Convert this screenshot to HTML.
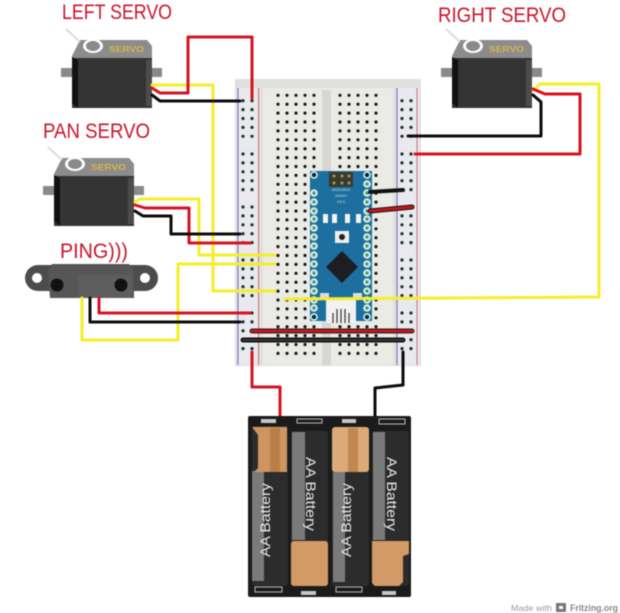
<!DOCTYPE html>
<html><head><meta charset="utf-8"><style>
html,body{margin:0;padding:0;background:#fff}
svg{display:block;filter:blur(.4px)}
text{font-family:"Liberation Sans",sans-serif}
</style></head><body>
<svg xmlns="http://www.w3.org/2000/svg" xmlns:xlink="http://www.w3.org/1999/xlink" width="620" height="613" viewBox="0 0 620 613">
<defs>
<g id="servo">
<path d="M61 68h12v9H61zM151 68h11v9h-11z" fill="#8a8a8a"/>
<path d="M72 56L80 40H147L152 46V60H72z" fill="#8c8c8c"/>
<rect x="72" y="58" width="80" height="50" fill="#333"/>
<path d="M72 57L78 60V108L72 103z" fill="#111"/>
<rect x="146" y="60" width="6" height="46" fill="#4c4c4c"/>
<rect x="78" y="60" width="68" height="48" fill="#343434"/>
<path d="M66 29L80 42" stroke="#ddd" stroke-width="2" fill="none"/>
<ellipse cx="93" cy="46" rx="10" ry="7" fill="#fff"/>
<ellipse cx="93" cy="46" rx="7" ry="5" fill="#8a8a8a"/>
<text x="109" y="52" font-size="8" font-weight="700" fill="#d8b64a" textLength="35" lengthAdjust="spacingAndGlyphs">SERVO</text>
</g>
<g id="col"><circle cy="0" r="1.6"/><circle cy="8.9" r="1.6"/><circle cy="17.8" r="1.6"/><circle cy="26.7" r="1.6"/><circle cy="35.6" r="1.6"/></g>
<g id="row5"><use xlink:href="#col" x="0"/><use xlink:href="#col" x="9"/><use xlink:href="#col" x="18"/><use xlink:href="#col" x="27"/><use xlink:href="#col" x="36"/></g>
<g id="rail"><use xlink:href="#col" x="0"/><use xlink:href="#col" x="9"/></g>
<g id="pin"><circle r="3.8" fill="#d5eee2"/><circle r="1.6" fill="#4a8f6a"/></g>
</defs>

<!-- labels -->
<g fill="#c8152b" font-size="21">
<text x="62" y="19" textLength="110" lengthAdjust="spacingAndGlyphs">LEFT SERVO</text>
<text x="438" y="22" textLength="128" lengthAdjust="spacingAndGlyphs">RIGHT SERVO</text>
<text x="43" y="138" textLength="107" lengthAdjust="spacingAndGlyphs">PAN SERVO</text>
<text x="60" y="258" textLength="68" lengthAdjust="spacingAndGlyphs">PING)))</text>
</g>

<!-- breadboard -->
<rect x="235" y="79" width="186" height="287" fill="#e0e0de"/>
<rect x="237" y="88" width="22" height="277" fill="#e9e9ef"/>
<rect x="397" y="88" width="22" height="277" fill="#e9e9ef"/>
<rect x="263" y="88" width="130" height="277" fill="#ebebe6"/>
<rect x="322" y="90" width="9" height="275" fill="#d6d6d4"/>
<path d="M238 88V365M397 88V365" stroke="#6a6ab8" stroke-width="1"/>
<path d="M258.500 88V365M417 88V365" stroke="#c87070" stroke-width="1"/>
<g fill="#16351f">
<use xlink:href="#rail" x="243" y="100.700"/><use xlink:href="#rail" x="243" y="154"/><use xlink:href="#rail" x="243" y="207"/><use xlink:href="#rail" x="243" y="260"/><use xlink:href="#rail" x="243" y="313"/>
<use xlink:href="#rail" x="402" y="100.700"/><use xlink:href="#rail" x="402" y="154"/><use xlink:href="#rail" x="402" y="207"/><use xlink:href="#rail" x="402" y="260"/><use xlink:href="#rail" x="402" y="313"/>
</g>
<g fill="#171717">
<use xlink:href="#row5" x="278" y="95.300"/><use xlink:href="#row5" x="340" y="95.300"/>
<use xlink:href="#row5" x="278" y="139.800"/><use xlink:href="#row5" x="340" y="139.800"/>
<use xlink:href="#row5" x="278" y="184.300"/><use xlink:href="#row5" x="340" y="184.300"/>
<use xlink:href="#row5" x="278" y="228.800"/><use xlink:href="#row5" x="340" y="228.800"/>
<use xlink:href="#row5" x="278" y="273.300"/><use xlink:href="#row5" x="340" y="273.300"/>
<use xlink:href="#row5" x="278" y="317.800"/><use xlink:href="#row5" x="340" y="317.800"/>
</g>

<!-- arduino -->
<rect x="310" y="171" width="62" height="150" fill="#1c6f9e"/>
<rect x="329" y="172" width="24" height="15" fill="#3a3a30"/>
<g fill="#a89a5c"><circle cx="334" cy="176" r="1.500"/><circle cx="342" cy="176" r="1.500"/><circle cx="349" cy="176" r="1.500"/><circle cx="334" cy="183" r="1.500"/><circle cx="342" cy="183" r="1.500"/><circle cx="349" cy="183" r="1.500"/></g>
<g>
<use xlink:href="#pin" x="314" y="193"/><use xlink:href="#pin" x="314" y="202"/><use xlink:href="#pin" x="314" y="211"/><use xlink:href="#pin" x="314" y="219"/><use xlink:href="#pin" x="314" y="228"/><use xlink:href="#pin" x="314" y="237"/><use xlink:href="#pin" x="314" y="246"/><use xlink:href="#pin" x="314" y="255"/><use xlink:href="#pin" x="314" y="264"/><use xlink:href="#pin" x="314" y="273"/><use xlink:href="#pin" x="314" y="282"/><use xlink:href="#pin" x="314" y="291"/><use xlink:href="#pin" x="314" y="300"/><use xlink:href="#pin" x="314" y="308"/>
<use xlink:href="#pin" x="367" y="184"/><use xlink:href="#pin" x="367" y="193"/><use xlink:href="#pin" x="367" y="202"/><use xlink:href="#pin" x="367" y="211"/><use xlink:href="#pin" x="367" y="219"/><use xlink:href="#pin" x="367" y="228"/><use xlink:href="#pin" x="367" y="237"/><use xlink:href="#pin" x="367" y="246"/><use xlink:href="#pin" x="367" y="255"/><use xlink:href="#pin" x="367" y="264"/><use xlink:href="#pin" x="367" y="273"/><use xlink:href="#pin" x="367" y="282"/><use xlink:href="#pin" x="367" y="291"/><use xlink:href="#pin" x="367" y="300"/><use xlink:href="#pin" x="367" y="308"/>
</g>
<circle cx="314" cy="175" r="3" fill="#123" stroke="#dff" stroke-width="1.500"/><circle cx="367" cy="175" r="3" fill="#123" stroke="#dff" stroke-width="1.500"/>
<circle cx="314" cy="317" r="3" fill="#123" stroke="#dff" stroke-width="1.500"/><circle cx="367" cy="317" r="3" fill="#123" stroke="#dff" stroke-width="1.500"/>
<g fill="#f4f4f4"><rect x="323" y="214" width="5" height="9"/><rect x="332" y="214" width="5" height="9"/><rect x="345" y="214" width="5" height="9"/><rect x="356" y="214" width="5" height="9"/></g>
<text x="341" y="191" font-size="4" fill="#cde" text-anchor="middle">ARDUINO</text>
<text x="341" y="197" font-size="4" fill="#cde" text-anchor="middle">NANO</text>
<text x="341" y="203" font-size="4" fill="#cde" text-anchor="middle">V3.0</text>
<rect x="335" y="231" width="14" height="12" fill="#eee"/><circle cx="342" cy="237" r="3" fill="#222"/>
<path d="M342 251L358 267L342 283L326 267z" fill="#1d1d24"/>
<rect x="320" y="293" width="9" height="5" fill="#ddd"/><rect x="353" y="293" width="9" height="5" fill="#ddd"/>
<rect x="326" y="298" width="30" height="25" fill="#f2f2f2"/>
<path d="M333 313V323M337 309V323M341 309V323M345 309V323M349 313V323" stroke="#333" stroke-width="1.200"/>

<!-- servos -->
<use xlink:href="#servo"/>
<use xlink:href="#servo" x="-18" y="118"/>
<use xlink:href="#servo" x="380"/>

<!-- ping -->
<path d="M38 265H145A13 13 0 0 1 145 291H38A13 13 0 0 1 38 265z" fill="#4c4c4c"/>
<circle cx="37" cy="278" r="5" fill="#fff"/><circle cx="145" cy="278" r="5" fill="#fff"/>
<path d="M52 264H129L134 271V298H50L48 271z" fill="#565656"/>
<rect x="78" y="275" width="54" height="23" fill="#5e5e5e"/>
<circle cx="57" cy="285" r="6.500" fill="#111"/><circle cx="121" cy="285" r="6.500" fill="#111"/>

<!-- wires -->
<g fill="none" stroke-linejoin="round" stroke-linecap="round">
<g stroke="#f5ee2a" stroke-width="3">
<path d="M152 85H213V291H275"/>
<path d="M135 202L140 199H199V255H275"/>
<path d="M82 298V340H178V264H275"/>
<path d="M533 90L540 84H599V297L285 299"/>
</g>
<g stroke="#d9121f" stroke-width="3">
<path d="M152 88L160 93H188V37H252V98"/>
<path d="M135 205L145 208H189V243H250"/>
<path d="M99 298V313H250"/>
<path d="M533 89L545 94H580V154H415"/>
<path d="M252 352V387H280V418"/>
</g>
<g stroke="#0c0c0c" stroke-width="3">
<path d="M152 95L160 101H240"/>
<path d="M135 211L143 216H171V234H240"/>
<path d="M90 298V322H240"/>
<path d="M533 95L541 102V136H408"/>
<path d="M403 352V385L375 388V417"/>
</g>
<path d="M252 331H412" stroke="#222" stroke-width="5"/>
<path d="M252 331H412" stroke="#c8141c" stroke-width="3"/>
<path d="M243 340H403" stroke="#111" stroke-width="5"/>
<path d="M243 340H403" stroke="#444" stroke-width="1.500"/>
<path d="M370 192L403 190" stroke="#111" stroke-width="4"/>
<path d="M370 211L412 207" stroke="#111" stroke-width="5"/>
<path d="M370 211L412 207" stroke="#c8141c" stroke-width="3"/>
</g>

<!-- battery -->
<rect x="248" y="416" width="163" height="181" rx="2" fill="#1b1b1b"/>
<g fill="none" stroke="#bbb" stroke-width="1">
<path d="M297 419H322V423H297zM379 419H405V424H379zM255 587H282V592H255zM336 587H362V592H336z"/>
</g>
<g fill="#c8c8c8"><rect x="261" y="419" width="15" height="4"/><rect x="342" y="419" width="14" height="4"/><rect x="301" y="591" width="15" height="4"/><rect x="382" y="591" width="14" height="4"/></g>
<rect x="252" y="426" width="36" height="160" rx="3" fill="#2c2c2c"/>
<rect x="291" y="431" width="37" height="155" rx="3" fill="#2c2c2c"/>
<rect x="332" y="427" width="37" height="159" rx="3" fill="#2c2c2c"/>
<rect x="372" y="431" width="37" height="155" rx="3" fill="#2c2c2c"/>
<rect x="252" y="471" width="12" height="110" fill="#7a7a7a"/>
<rect x="292" y="432" width="13" height="108" fill="#7a7a7a"/>
<rect x="333" y="472" width="12" height="110" fill="#7a7a7a"/>
<rect x="373" y="432" width="12" height="108" fill="#7a7a7a"/>
<path d="M252 427H287V472H254L258 468V435z" fill="#cf9560"/>
<rect x="270" y="428" width="10" height="44" fill="#b87f48"/>
<rect x="291" y="541" width="37" height="45" rx="3" fill="#d29a66"/>
<rect x="332" y="427" width="37" height="45" rx="3" fill="#dcaa78"/>
<rect x="348" y="428" width="10" height="44" fill="#c08850"/>
<path d="M372 541H409V554L403 556V582L399 586H375L372 583z" fill="#d29a66"/>
<g fill="#e8e8e8" font-size="14">
<text transform="translate(270,557) rotate(-90)" textLength="74" lengthAdjust="spacingAndGlyphs">AA Battery</text>
<text transform="translate(306,457) rotate(90)" textLength="74" lengthAdjust="spacingAndGlyphs">AA Battery</text>
<text transform="translate(351,557) rotate(-90)" textLength="74" lengthAdjust="spacingAndGlyphs">AA Battery</text>
<text transform="translate(387,457) rotate(90)" textLength="74" lengthAdjust="spacingAndGlyphs">AA Battery</text>
</g>

<!-- footer -->
<text x="511" y="611" font-size="8.500" fill="#999" textLength="41" lengthAdjust="spacingAndGlyphs">Made with</text>
<rect x="556" y="603" width="10" height="9" fill="#777"/><rect x="559" y="606" width="4" height="3" fill="#fff"/>
<text x="570" y="611" font-size="9" font-weight="700" fill="#888" textLength="48" lengthAdjust="spacingAndGlyphs">Fritzing.org</text>
</svg>
</body></html>
